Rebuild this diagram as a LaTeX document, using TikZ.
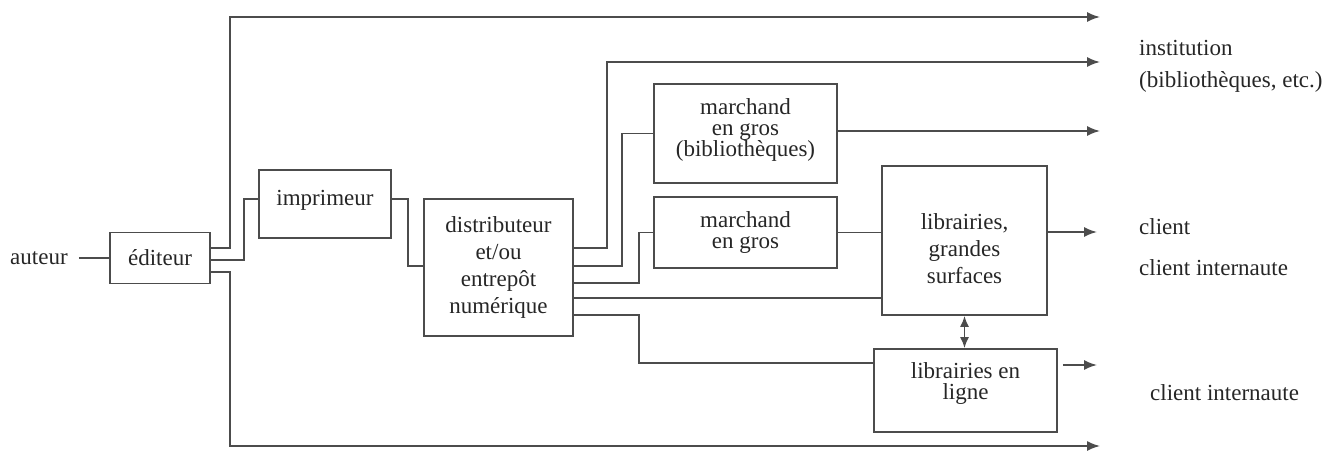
\documentclass[tikz,border=0pt]{standalone}
\usepackage{fontspec}
\setmainfont{Liberation Serif}
\usetikzlibrary{arrows.meta}

\begin{document}
\begin{tikzpicture}[
  x=1pt, y=-1pt,
  every node/.style={text=black!85, font=\fontsize{23}{21}\selectfont},
  boite/.style={draw=black!70, line width=1.7pt, align=center, inner sep=0pt},
  sortie/.style={anchor=west, inner sep=0pt, align=left},
  lien/.style={draw=black!70, line width=1.7pt},
  fleche/.style={lien, -{Latex[length=13pt,width=10pt]}}
]
  \useasboundingbox (0,0) rectangle (1336,452);

  \node[anchor=west, inner sep=0pt, inner xsep=11pt] (auteur) at (-1,258) {auteur};
  \node[boite, minimum width=100pt, minimum height=51pt] (editeur) at (160,258) {éditeur};
  \node[boite, minimum width=132pt, minimum height=68pt] (imprimeur) at (325,204) {};
  \node (imprimeurtxt) at ([yshift=4pt]imprimeur.center) {imprimeur};
  \node[boite, minimum width=149pt, minimum height=137pt,
        font=\fontsize{23}{27}\selectfont] (distrib) at (498.5,267.5)
    {distributeur\\et/ou\\entrepôt\\numérique};
  \node[boite, minimum width=183pt, minimum height=99pt] (grosbib) at (745.5,133.5) {};
  \node[align=center] (grosbibtxt) at ([yshift=4pt]grosbib.center)
    {marchand\\en gros\\(bibliothèques)};
  \node[boite, minimum width=183pt, minimum height=71pt] (gros) at (745.5,232.5)
    {marchand\\en gros};
  \node[boite, minimum width=165pt, minimum height=149pt] (librairies) at (964.5,240.5) {};
  \node[align=center, font=\fontsize{23}{27}\selectfont] (librairiestxt)
    at ([yshift=-8pt]librairies.center) {librairies,\\grandes\\surfaces};
  \node[boite, minimum width=183pt, minimum height=83pt] (enligne) at (965.5,390.5) {};
  \node[align=center] (enlignetxt) at ([yshift=7pt]enligne.center)
    {librairies en\\ligne};

  % destinataires
  \node[sortie, font=\fontsize{23}{32}\selectfont] (institution) at (1139,66)
    {institution\\(bibliothèques, etc.)};
  \node[sortie] (client) at (1139,227) {client};
  \node[sortie] (internaute) at (1139,268) {client internaute};
  \node[sortie] (internauteb) at (1150,393) {client internaute};

  \coordinate (s1) at (1100,17);
  \coordinate (s2) at (1100,62);
  \coordinate (s3) at (1100,131);
  \coordinate (s4) at (1097,232);
  \coordinate (s5) at (1097,365);
  \coordinate (s6) at (1100,446);

  \draw[lien] (auteur) -- (editeur);
  \draw[fleche] ([yshift=10pt]editeur.east) -- ++(19,0) |- (s1);
  \draw[lien] ([yshift=-2pt]editeur.east) -- ++(33,0) |- ([yshift=5pt]imprimeur.west);
  \draw[fleche] ([yshift=-14pt]editeur.east) -- ++(19,0) |- (s6);
  \draw[lien] ([yshift=5pt]imprimeur.east) -- ++(16,0) |- ([yshift=1.5pt]distrib.west);

  \draw[fleche] ([yshift=19.5pt]distrib.east) -- ++(33,0) |- (s2);
  \draw[lien] ([yshift=1.5pt]distrib.east) -- ++(48,0) |- (grosbib.west);
  \draw[lien] ([yshift=-15.5pt]distrib.east) -- ++(65,0) |- (gros.west);
  \draw[lien] ([yshift=-30.5pt]distrib.east) -- ([yshift=-57.5pt]librairies.west);
  \draw[lien] ([yshift=-47.5pt]distrib.east) -- ++(65,0) |- ([yshift=27.5pt]enligne.west);

  \draw[fleche] (grosbib.east |- s3) -- (s3);
  \draw[lien] (gros.east) -- (librairies.west |- gros.east);
  \draw[fleche] (librairies.east |- s4) -- (s4);
  \draw[fleche, shorten <=5pt] (enligne.east |- s5) -- (s5);
  \draw[lien, {Latex[length=11pt,width=9pt]}-{Latex[length=11pt,width=9pt]}]
    (librairies.south) -- (librairies.south |- enligne.north);
\end{tikzpicture}
\end{document}
